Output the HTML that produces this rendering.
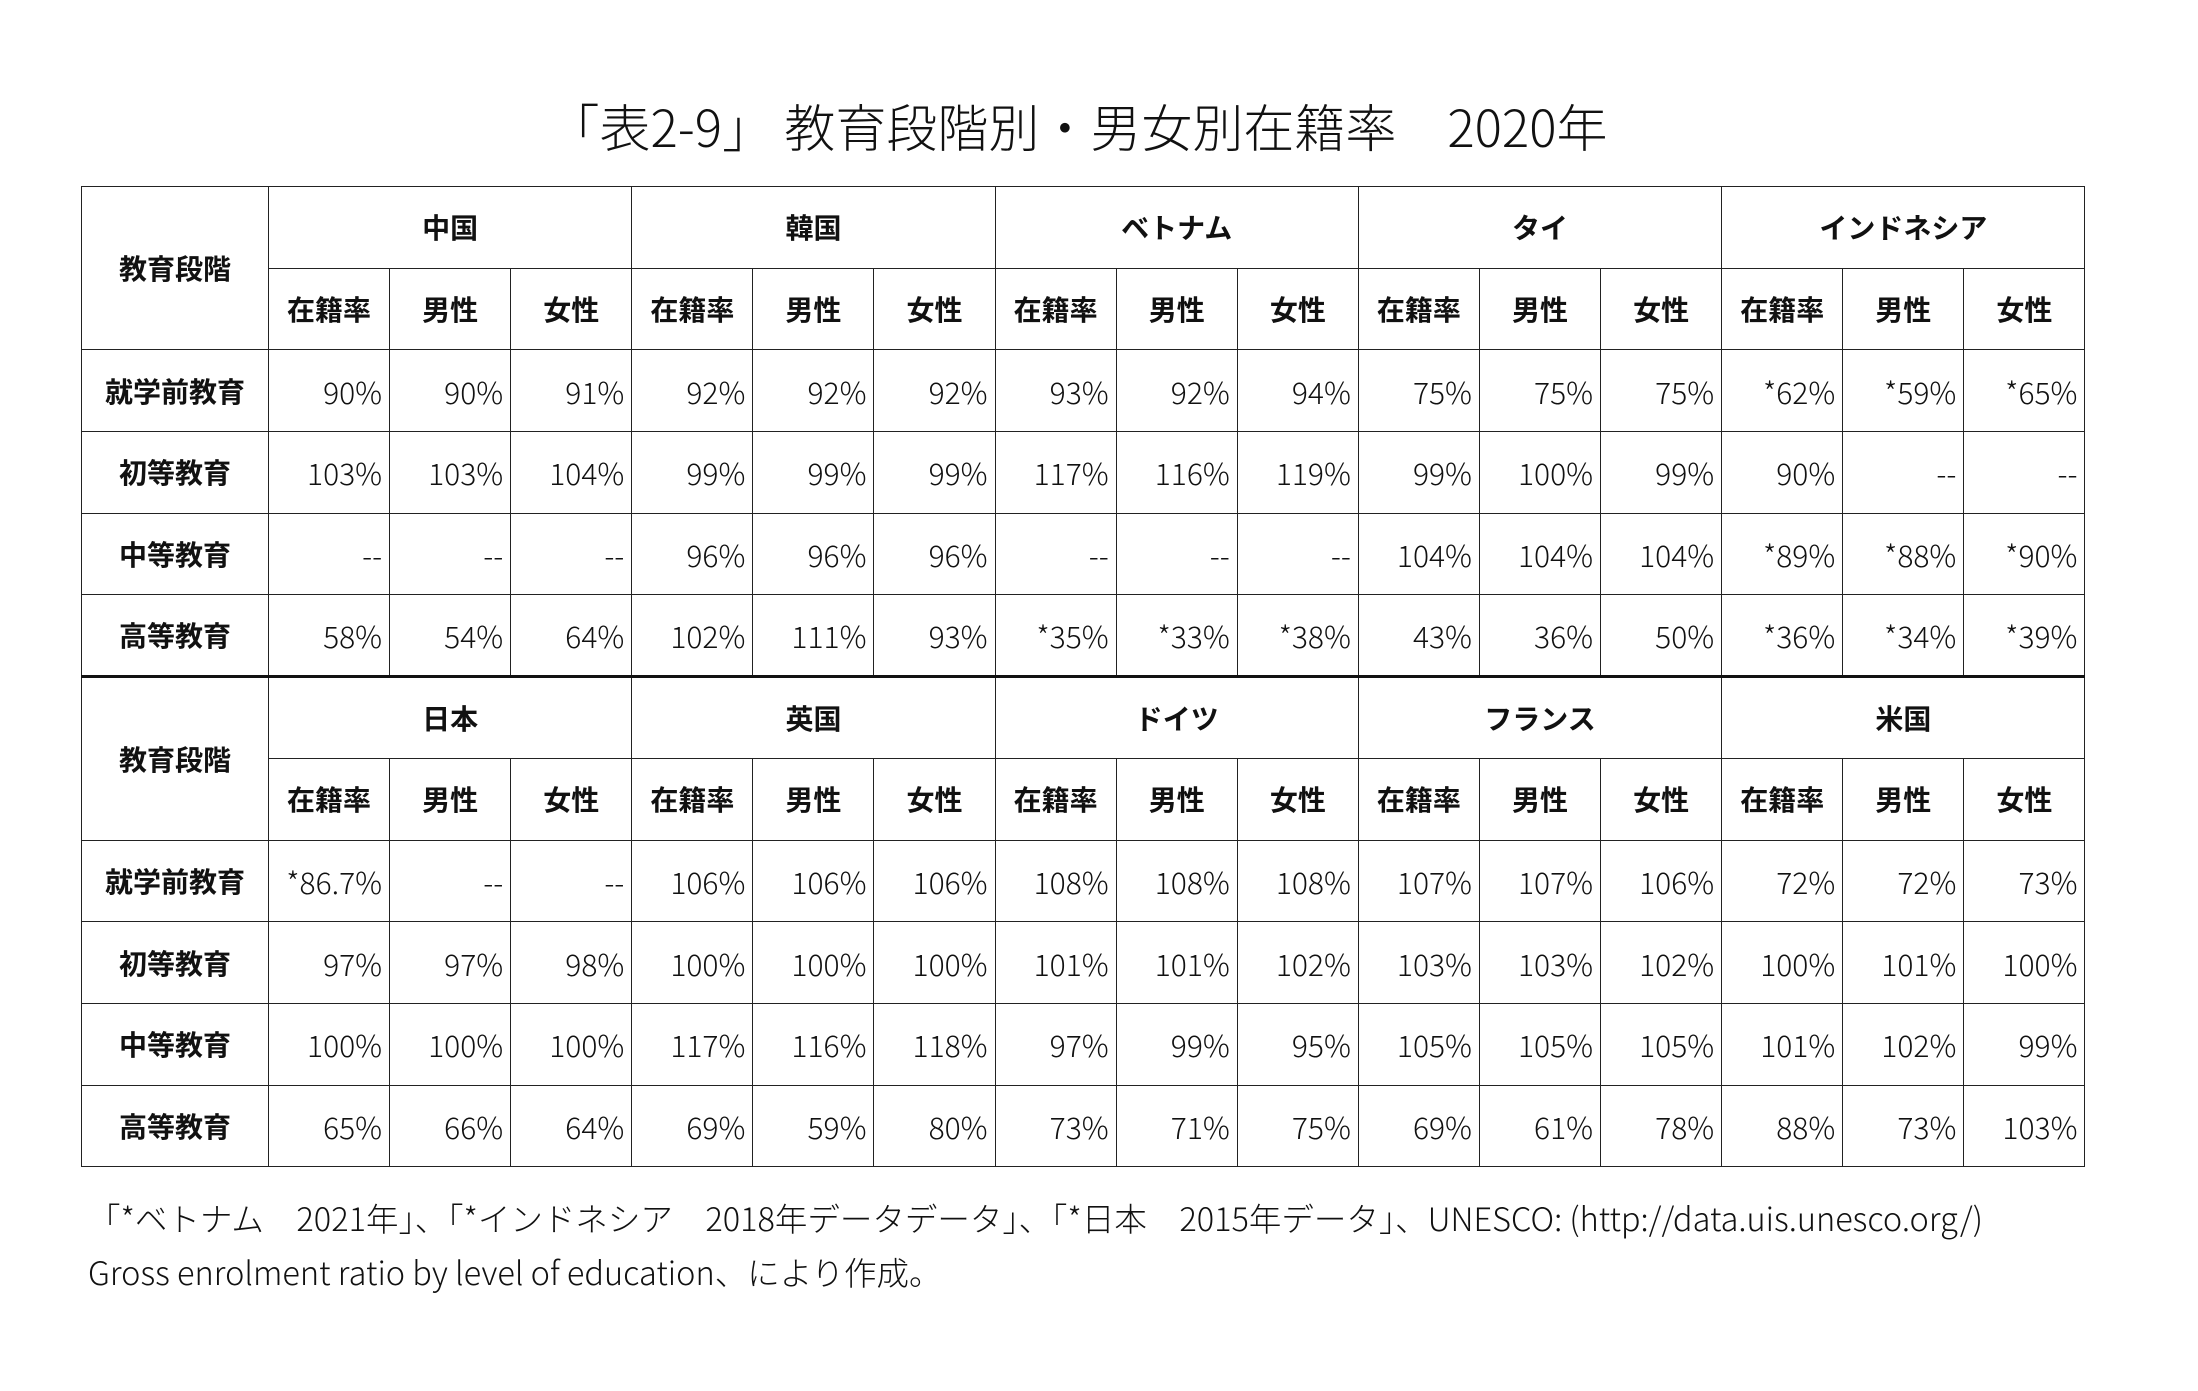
<!DOCTYPE html>
<html><head><meta charset="utf-8"><style>
html,body{margin:0;padding:0;background:#fff;}
body{width:2198px;height:1391px;position:relative;overflow:hidden;font-family:"Liberation Sans","Noto Sans CJK JP",sans-serif;color:#111;}
.title{position:absolute;left:0;width:2156px;top:88px;text-align:center;font-size:51px;font-weight:300;font-family:"Noto Sans CJK JP",sans-serif;white-space:pre;}
table{position:absolute;left:81px;top:186px;border-collapse:collapse;table-layout:fixed;width:2004px;}
td{border:1.5px solid #222;height:81.7px;padding:0;font-size:30px;text-align:right;padding-right:7px;font-weight:300;font-family:"Noto Sans CJK JP",sans-serif;white-space:nowrap;box-sizing:border-box;}
td.h{text-align:center;padding-right:0;font-weight:bold;font-size:28px;}
tr.thick td{border-top:3.5px solid #111;}
.foot{position:absolute;left:88px;font-size:32.5px;font-weight:300;font-family:"Noto Sans CJK JP",sans-serif;white-space:pre;}
</style></head><body>
<div class="title">「表2-9」 教育段階別・男女別在籍率　2020年</div>
<table>
<colgroup><col style="width:187px"><col span="15" style="width:121.1px"></colgroup>
<tr><td class="h" rowspan="2">教育段階</td><td class="h" colspan="3">中国</td><td class="h" colspan="3">韓国</td><td class="h" colspan="3">ベトナム</td><td class="h" colspan="3">タイ</td><td class="h" colspan="3">インドネシア</td></tr>
<tr><td class="h">在籍率</td><td class="h">男性</td><td class="h">女性</td><td class="h">在籍率</td><td class="h">男性</td><td class="h">女性</td><td class="h">在籍率</td><td class="h">男性</td><td class="h">女性</td><td class="h">在籍率</td><td class="h">男性</td><td class="h">女性</td><td class="h">在籍率</td><td class="h">男性</td><td class="h">女性</td></tr>
<tr><td class="h">就学前教育</td><td>90%</td><td>90%</td><td>91%</td><td>92%</td><td>92%</td><td>92%</td><td>93%</td><td>92%</td><td>94%</td><td>75%</td><td>75%</td><td>75%</td><td>*62%</td><td>*59%</td><td>*65%</td></tr>
<tr><td class="h">初等教育</td><td>103%</td><td>103%</td><td>104%</td><td>99%</td><td>99%</td><td>99%</td><td>117%</td><td>116%</td><td>119%</td><td>99%</td><td>100%</td><td>99%</td><td>90%</td><td>--</td><td>--</td></tr>
<tr><td class="h">中等教育</td><td>--</td><td>--</td><td>--</td><td>96%</td><td>96%</td><td>96%</td><td>--</td><td>--</td><td>--</td><td>104%</td><td>104%</td><td>104%</td><td>*89%</td><td>*88%</td><td>*90%</td></tr>
<tr><td class="h">高等教育</td><td>58%</td><td>54%</td><td>64%</td><td>102%</td><td>111%</td><td>93%</td><td>*35%</td><td>*33%</td><td>*38%</td><td>43%</td><td>36%</td><td>50%</td><td>*36%</td><td>*34%</td><td>*39%</td></tr>
<tr class="thick"><td class="h" rowspan="2">教育段階</td><td class="h" colspan="3">日本</td><td class="h" colspan="3">英国</td><td class="h" colspan="3">ドイツ</td><td class="h" colspan="3">フランス</td><td class="h" colspan="3">米国</td></tr>
<tr><td class="h">在籍率</td><td class="h">男性</td><td class="h">女性</td><td class="h">在籍率</td><td class="h">男性</td><td class="h">女性</td><td class="h">在籍率</td><td class="h">男性</td><td class="h">女性</td><td class="h">在籍率</td><td class="h">男性</td><td class="h">女性</td><td class="h">在籍率</td><td class="h">男性</td><td class="h">女性</td></tr>
<tr><td class="h">就学前教育</td><td>*86.7%</td><td>--</td><td>--</td><td>106%</td><td>106%</td><td>106%</td><td>108%</td><td>108%</td><td>108%</td><td>107%</td><td>107%</td><td>106%</td><td>72%</td><td>72%</td><td>73%</td></tr>
<tr><td class="h">初等教育</td><td>97%</td><td>97%</td><td>98%</td><td>100%</td><td>100%</td><td>100%</td><td>101%</td><td>101%</td><td>102%</td><td>103%</td><td>103%</td><td>102%</td><td>100%</td><td>101%</td><td>100%</td></tr>
<tr><td class="h">中等教育</td><td>100%</td><td>100%</td><td>100%</td><td>117%</td><td>116%</td><td>118%</td><td>97%</td><td>99%</td><td>95%</td><td>105%</td><td>105%</td><td>105%</td><td>101%</td><td>102%</td><td>99%</td></tr>
<tr><td class="h">高等教育</td><td>65%</td><td>66%</td><td>64%</td><td>69%</td><td>59%</td><td>80%</td><td>73%</td><td>71%</td><td>75%</td><td>69%</td><td>61%</td><td>78%</td><td>88%</td><td>73%</td><td>103%</td></tr>
</table>
<div class="foot" style="top:1194px">「*ベトナム　2021年」、「*インドネシア　2018年データデータ」、「*日本　2015年データ」、UNESCO: (http://data.uis.unesco.org/)</div>
<div class="foot" style="top:1248px">Gross enrolment ratio by level of education、により作成。</div>
</body></html>
